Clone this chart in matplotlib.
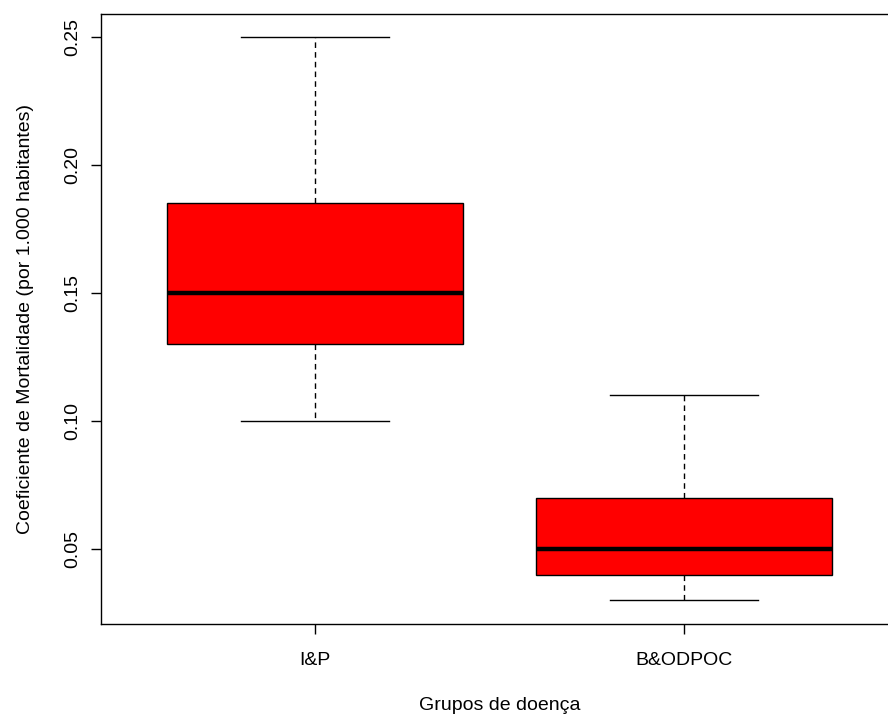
import matplotlib
matplotlib.use("Agg")
import matplotlib.pyplot as plt

plt.rcParams['font.family'] = ['Liberation Sans', 'DejaVu Sans']

categories = ["I&P", "B&ODPOC"]
whisker_low = [0.10, 0.03]
q1 = [0.13, 0.04]
median = [0.15, 0.05]
q3 = [0.185, 0.07]
whisker_high = [0.25, 0.11]
yticks = [0.05, 0.10, 0.15, 0.20, 0.25]
ytick_labels = ["0.05", "0.10", "0.15", "0.20", "0.25"]

stats = []
for i, c in enumerate(categories):
    stats.append(dict(label=c, whislo=whisker_low[i], q1=q1[i], med=median[i],
                      q3=q3[i], whishi=whisker_high[i], fliers=[]))

fig = plt.figure(figsize=(8.88, 7.18), dpi=100)
ax = fig.add_axes([101/888, 94/718, 797/888, 610/718])

ax.bxp(stats, positions=[1, 2], widths=0.8, capwidths=0.4, patch_artist=True,
       showfliers=False,
       boxprops=dict(facecolor='#ff0000', edgecolor='black', linewidth=1.0),
       medianprops=dict(color='black', linewidth=3.2, solid_capstyle='butt'),
       whiskerprops=dict(color='black', linewidth=1.0, linestyle=(0, (4, 3))),
       capprops=dict(color='black', linewidth=1.0))

ax.set_xlim(0.42, 2.58)
ax.set_ylim(0.0207, 0.259)
ax.set_yticks(yticks)
ax.set_yticklabels(ytick_labels, rotation=90, va='center')
ax.set_xticks([1, 2])
ax.set_xticklabels(categories)
ax.tick_params(axis='both', labelsize=14, length=7, width=1)
ax.tick_params(axis='x', pad=13)
ax.tick_params(axis='y', pad=7)
ax.set_xlabel("Grupos de doença", fontsize=14, labelpad=20)
ax.set_ylabel("Coeficiente de Mortalidade (por 1.000 habitantes)", fontsize=14, labelpad=22)
for s in ax.spines.values():
    s.set_linewidth(1.0)

fig.savefig("out.png", dpi=100)
